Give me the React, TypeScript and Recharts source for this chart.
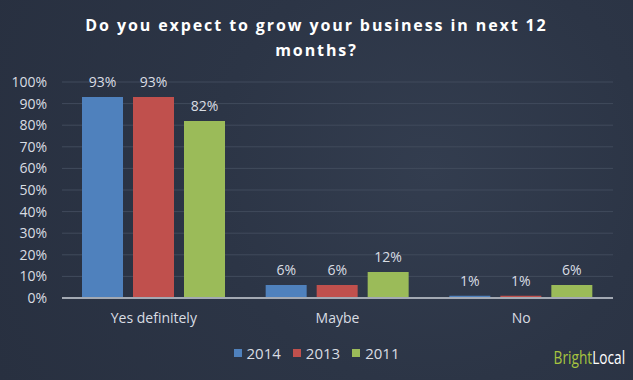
import React from 'react';
import { Bar, BarChart, CartesianGrid, LabelList, XAxis, YAxis } from 'recharts';

const answers = ['Yes definitely', 'Maybe', 'No'];
const y2014 = [93, 6, 1];
const y2013 = [93, 6, 1];
const y2011 = [82, 12, 6];
const yTicks = [0, 10, 20, 30, 40, 50, 60, 70, 80, 90, 100];
const seriesNames = ['2014', '2013', '2011'];
const seriesColors = ['#4f81bd', '#c0504d', '#9bbb59'];

const data = answers.map((a, i) => ({ answer: a, y2014: y2014[i], y2013: y2013[i], y2011: y2011[i] }));
const keys = ['y2014', 'y2013', 'y2011'];

const txt = '#d9dde3';
const font = '"Open Sans", "DejaVu Sans", sans-serif';

export default function App() {
  return (
    <div
      style={{
        position: 'absolute',
        left: 0,
        top: 0,
        width: 633,
        height: 380,
        background: 'radial-gradient(circle at 430px 170px, #333d4f 0%, #2c3546 45%, #283040 100%)',
        fontFamily: font,
        overflow: 'hidden',
      }}
    >
      <div
        style={{
          position: 'absolute',
          top: 13,
          left: 0,
          width: 633,
          textAlign: 'center',
          color: '#ffffff',
          fontWeight: 700,
          fontSize: 16,
          letterSpacing: 1.9,
          lineHeight: '25px',
        }}
      >
        Do you expect to grow your business in next 12
        <br />
        months?
      </div>
      <BarChart
        width={633}
        height={380}
        data={data}
        margin={{ top: 82, right: 20, left: 0, bottom: 52 }}
        barGap={10}
        barCategoryGap={20}
        style={{ position: 'absolute', left: 0, top: 0 }}
      >
        <CartesianGrid vertical={false} stroke="#414b5c" strokeWidth={1} />
        <XAxis
          dataKey="answer"
          height={30}
          tick={{ fill: txt, fontSize: 14, fontFamily: font }}
          tickLine={false}
          axisLine={{ stroke: '#a3a9b3', strokeWidth: 2 }}
          tickMargin={9}
        />
        <YAxis
          domain={[0, 100]}
          ticks={yTicks}
          interval={0}
          width={62}
          tickFormatter={(v) => `${v}%`}
          tick={{ fill: txt, fontSize: 14, fontFamily: font }}
          tickLine={false}
          axisLine={false}
          tickSize={0}
          tickMargin={15}
        />
        {keys.map((k, i) => (
          <Bar key={k} dataKey={k} name={seriesNames[i]} fill={seriesColors[i]} isAnimationActive={false}>
            <LabelList dataKey={k} position="top" offset={10} formatter={(v) => `${v}%`} fill={txt} fontSize={14} />
          </Bar>
        ))}
      </BarChart>
      <div
        style={{
          position: 'absolute',
          top: 343,
          left: 0,
          width: 633,
          display: 'flex',
          justifyContent: 'center',
          gap: 12,
          fontSize: 15,
          color: txt,
          lineHeight: '20px',
        }}
      >
        {seriesNames.map((n, i) => (
          <span key={n} style={{ display: 'flex', alignItems: 'center' }}>
            <span style={{ display: 'inline-block', width: 8, height: 8, background: seriesColors[i], marginRight: 5 }} />
            {n}
          </span>
        ))}
      </div>
      <div
        style={{
          position: 'absolute',
          right: 8,
          top: 345,
          fontSize: 18,
          lineHeight: '24px',
          transform: 'scaleX(0.76)',
          transformOrigin: 'right center',
          whiteSpace: 'nowrap',
        }}
      >
        <span style={{ color: '#a7c43f' }}>Bright</span>
        <span style={{ color: '#ffffff' }}>Local</span>
      </div>
    </div>
  );
}
